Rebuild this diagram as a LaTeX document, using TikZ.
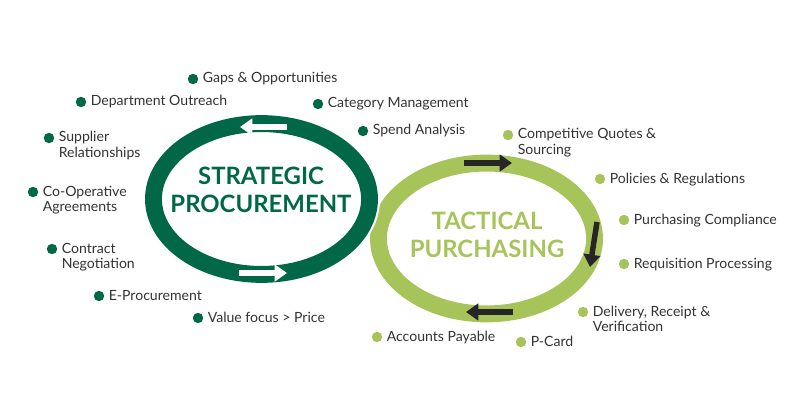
\documentclass[tikz,border=0pt]{standalone}
\usepackage{fontspec}
\setmainfont{Lato}
\usepackage{xcolor}
\usepackage{tikz}
\usetikzlibrary{arrows.meta,positioning,shapes.geometric,calc}
\definecolor{spgreen}{RGB}{0,104,71}
\definecolor{tpgreen}{RGB}{167,196,90}
\definecolor{arrowgray}{RGB}{38,38,38}
\definecolor{labelgray}{RGB}{51,51,51}
\tikzset{
  ring/.style={draw, ellipse, line width=12pt, outer sep=0pt, inner sep=0pt,
               minimum width=5.4cm, minimum height=3.77cm},
  ringtitle/.style={font=\fontsize{17}{20}\selectfont\bfseries, align=center},
  dot/.style={circle, inner sep=0pt, minimum size=0.26cm},
  topic/.style={anchor=base west, inner sep=0pt, text=labelgray,
                font=\fontsize{10}{11.3}\selectfont},
  flowarrow/.style={line width=3.9pt, -{Triangle[length=8.8pt, width=11.8pt]}},
}
\newcommand{\topic}[4]{%
  \node[dot, fill=#3] (#1dot) at (#2) {};
  \node[topic] (#1) at ($(#1dot)+(9.5,4)$) {\begin{tabular}[t]{@{}l@{}}#4\end{tabular}};
}

\begin{document}
\begin{tikzpicture}[x=0.025cm, y=-0.025cm]
    \useasboundingbox (0,0) rectangle (800,400);
    % the two cycles
    \node[ring, draw=tpgreen] (tact) at (486.5,238.5) {};
    \node[ring, draw=spgreen, preaction={draw=white, line width=15pt}] (strat) at (261.5,199) {};
    \node[ringtitle, text=spgreen] (strattitle) at (261,190) {STRATEGIC\\PROCUREMENT};
    \node[ringtitle, text=tpgreen] (tacttitle) at (487,235) {TACTICAL\\PURCHASING};
    % arrows along the rings
    \coordinate (sptopA) at (287,127);
    \coordinate (sptopB) at (240,127);
    \coordinate (spbotA) at (239,273);
    \coordinate (spbotB) at (287,273);
    \coordinate (tptopA) at (464,163);
    \coordinate (tptopB) at (512,163);
    \coordinate (tprgtA) at (597,222);
    \coordinate (tprgtB) at (590,267);
    \coordinate (tpbotA) at (513,312);
    \coordinate (tpbotB) at (466,312);
    \draw[flowarrow, white] (sptopA) -- (sptopB);
    \draw[flowarrow, white] (spbotA) -- (spbotB);
    \draw[flowarrow, arrowgray] (tptopA) -- (tptopB);
    \draw[flowarrow, arrowgray] (tprgtA) -- (tprgtB);
    \draw[flowarrow, arrowgray] (tpbotA) -- (tpbotB);
    % strategic topics
    \topic{gaps}{193,79}{spgreen}{Gaps \& Opportunities}
    \topic{dept}{81,102}{spgreen}{Department Outreach}
    \topic{categ}{318,104}{spgreen}{Category Management}
    \topic{spend}{363,131}{spgreen}{Spend Analysis}
    \topic{suppl}{49,138}{spgreen}{Supplier\\Relationships}
    \topic{coop}{33,192}{spgreen}{Co-Operative\\Agreements}
    \topic{contr}{52,249}{spgreen}{Contract\\Negotiation}
    \topic{eproc}{99,296}{spgreen}{E-Procurement}
    \topic{value}{198,318}{spgreen}{Value focus > Price}
    % tactical topics
    \topic{quotes}{508,135}{tpgreen}{Competitive Quotes \&\\Sourcing}
    \topic{polic}{600,179}{tpgreen}{Policies \& Regulations}
    \topic{compl}{624,220}{tpgreen}{Purchasing Compliance}
    \topic{requis}{624,264}{tpgreen}{Requisition Processing}
    \topic{deliv}{583,312}{tpgreen}{Delivery, Receipt \&\\Verification}
    \topic{accpay}{377,337}{tpgreen}{Accounts Payable}
    \topic{pcard}{521,342}{tpgreen}{P-Card}
  \end{tikzpicture}
\end{document}
